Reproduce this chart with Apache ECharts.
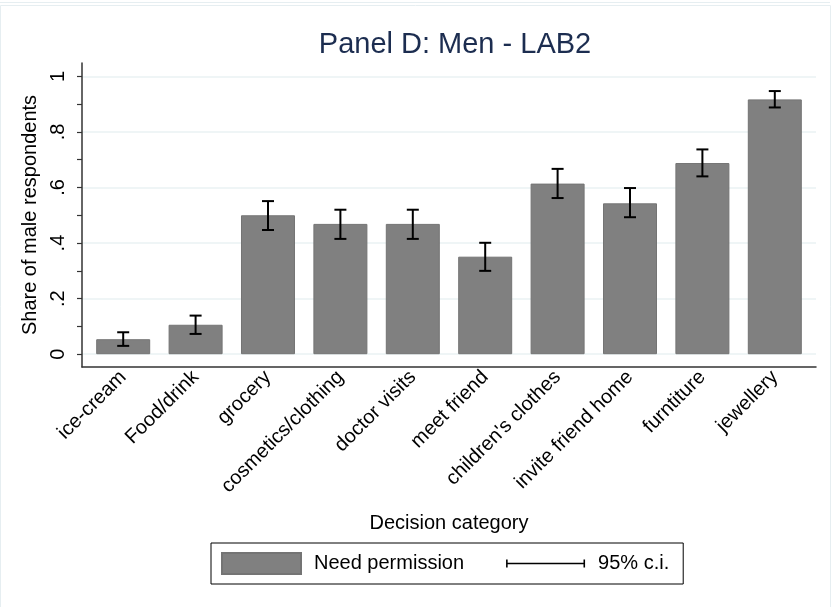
<!DOCTYPE html>
<html>
<head>
<meta charset="utf-8">
<script src="https://cdn.jsdelivr.net/npm/echarts@6/dist/echarts.min.js"></script>
<style>
html,body{margin:0;padding:0;background:#fff;}
#chart{width:837px;height:607px;}
</style>
</head>
<body>
<div id="chart"></div>
<script>
// ---- data ----
var categories = ['ice-cream', 'Food/drink', 'grocery', 'cosmetics/clothing', 'doctor visits',
  'meet friend', "children's clothes", 'invite friend home', 'furntiture', 'jewellery'];
var shares  = [0.054, 0.106, 0.500, 0.469, 0.469, 0.351, 0.614, 0.543, 0.688, 0.917];
var ciLow   = [0.030, 0.073, 0.447, 0.415, 0.415, 0.300, 0.562, 0.493, 0.640, 0.888];
var ciHigh  = [0.079, 0.139, 0.551, 0.520, 0.520, 0.401, 0.667, 0.598, 0.737, 0.947];
var yLabelValues = [0, 0.2, 0.4, 0.6, 0.8, 1];
var yTickValues = [0, 0.1, 0.2, 0.3, 0.4, 0.5, 0.6, 0.7, 0.8, 0.9, 1];
var titleText = 'Panel D: Men - LAB2';
var yTitle = 'Share of male respondents';
var xTitle = 'Decision category';
var barName = 'Need permission';
var ciName = '95% c.i.';

var FONT = '"Liberation Sans", Arial, sans-serif';
var idx = categories.map(function (c, i) { return i; });
var barData = shares.map(function (v, i) { return [i, v]; });
var ciData = ciLow.map(function (v, i) { return [i, v, ciHigh[i]]; });

var chart = echarts.init(document.getElementById('chart'));
var yMin = -0.046, yMax = 1.048;

chart.setOption({
  backgroundColor: '#ffffff',
  animation: false,
  textStyle: { fontFamily: FONT },
  title: {
    text: titleText, left: 450, top: 25, textAlign: 'center',
    textStyle: { fontFamily: FONT, fontSize: 29, fontWeight: 'normal', color: '#1c2d50' }
  },
  grid: { left: 82, right: 21, top: 63, bottom: 240 },
  xAxis: {
    type: 'value', min: -0.569, max: 9.569,
    name: xTitle, nameLocation: 'middle', nameGap: 146,
    nameTextStyle: { fontFamily: FONT, fontSize: 20, color: '#000' },
    axisLine: { show: true, onZero: false, lineStyle: { color: '#333', width: 1.5 } },
    axisTick: { show: false, customValues: idx },
    axisLabel: {
      customValues: idx, rotate: 45, margin: 7,
      fontFamily: FONT, fontSize: 20, color: '#000',
      formatter: function (v) { return categories[Math.round(v)]; }
    },
    splitLine: { show: false }
  },
  yAxis: [{
    type: 'value', min: yMin, max: yMax, position: 'left',
    name: yTitle, nameLocation: 'middle', nameGap: 37, nameRotate: 90,
    nameTextStyle: { fontFamily: FONT, fontSize: 20, color: '#000' },
    axisLine: { show: true, onZero: false, lineStyle: { color: '#333', width: 1.5 } },
    axisTick: { show: true, customValues: yTickValues, length: 5, lineStyle: { color: '#333', width: 1.2 } },
    axisLabel: {
      customValues: yLabelValues, rotate: 90, margin: 14,
      fontFamily: FONT, fontSize: 20, color: '#000',
      formatter: function (v) {
        var s = (Math.round(v * 10) / 10).toString();
        return s.replace(/^0\./, '.');
      }
    },
    splitLine: { show: false }
  }, {
    type: 'value', min: yMin, max: yMax, position: 'left',
    axisLine: { show: false, onZero: false },
    axisTick: { show: false, customValues: yLabelValues },
    axisLabel: { show: false, customValues: yLabelValues },
    splitLine: { show: true, lineStyle: { color: '#eaf2f3', width: 1.5 } }
  }],
  legend: {
    left: 211, top: 543,
    orient: 'horizontal',
    borderColor: '#000', borderWidth: 1, borderRadius: 0,
    padding: [9, 14, 9, 10],
    itemGap: 42, itemWidth: 79, itemHeight: 21,
    textStyle: { fontFamily: FONT, fontSize: 20, color: '#000', padding: [0, 0, 0, 8] },
    data: [
      { name: barName, icon: 'rect' },
      { name: ciName, icon: 'path://M0,0h0.01v0.01h-0.01z M0,9.8h80v1.4h-80z M0,6.5h1.6v8h-1.6z M78.4,6.5h1.6v8h-1.6z M79.99,20.99h0.01v0.01h-0.01z' }
    ]
  },
  series: [{
    name: barName, type: 'bar', yAxisIndex: 0,
    barWidth: 54,
    data: barData,
    itemStyle: { color: '#808080', borderColor: '#747474', borderWidth: 1 },
    z: 2
  }, {
    name: ciName, type: 'custom', yAxisIndex: 0,
    itemStyle: { color: '#000' },
    data: ciData,
    z: 3,
    renderItem: function (params, api) {
      var x = api.value(0);
      var lo = api.coord([x, api.value(1)]);
      var hi = api.coord([x, api.value(2)]);
      var hw = 6;
      var st = { stroke: '#000', lineWidth: 2 };
      return {
        type: 'group',
        children: [
          { type: 'line', shape: { x1: lo[0], y1: lo[1], x2: hi[0], y2: hi[1] }, style: st },
          { type: 'line', shape: { x1: lo[0] - hw, y1: lo[1], x2: lo[0] + hw, y2: lo[1] }, style: st },
          { type: 'line', shape: { x1: hi[0] - hw, y1: hi[1], x2: hi[0] + hw, y2: hi[1] }, style: st }
        ]
      };
    }
  }],
  graphic: [{
    type: 'rect', silent: true, z: -1,
    shape: { x: 0.5, y: 5.5, width: 830, height: 610 },
    style: { fill: null, stroke: '#e6eef1', lineWidth: 1 }
  }, {
    type: 'line', silent: true, z: -1,
    shape: { x1: 0, y1: 2.5, x2: 830, y2: 2.5 },
    style: { stroke: '#e6eef1', lineWidth: 1 }
  }]
});
</script>
</body>
</html>
